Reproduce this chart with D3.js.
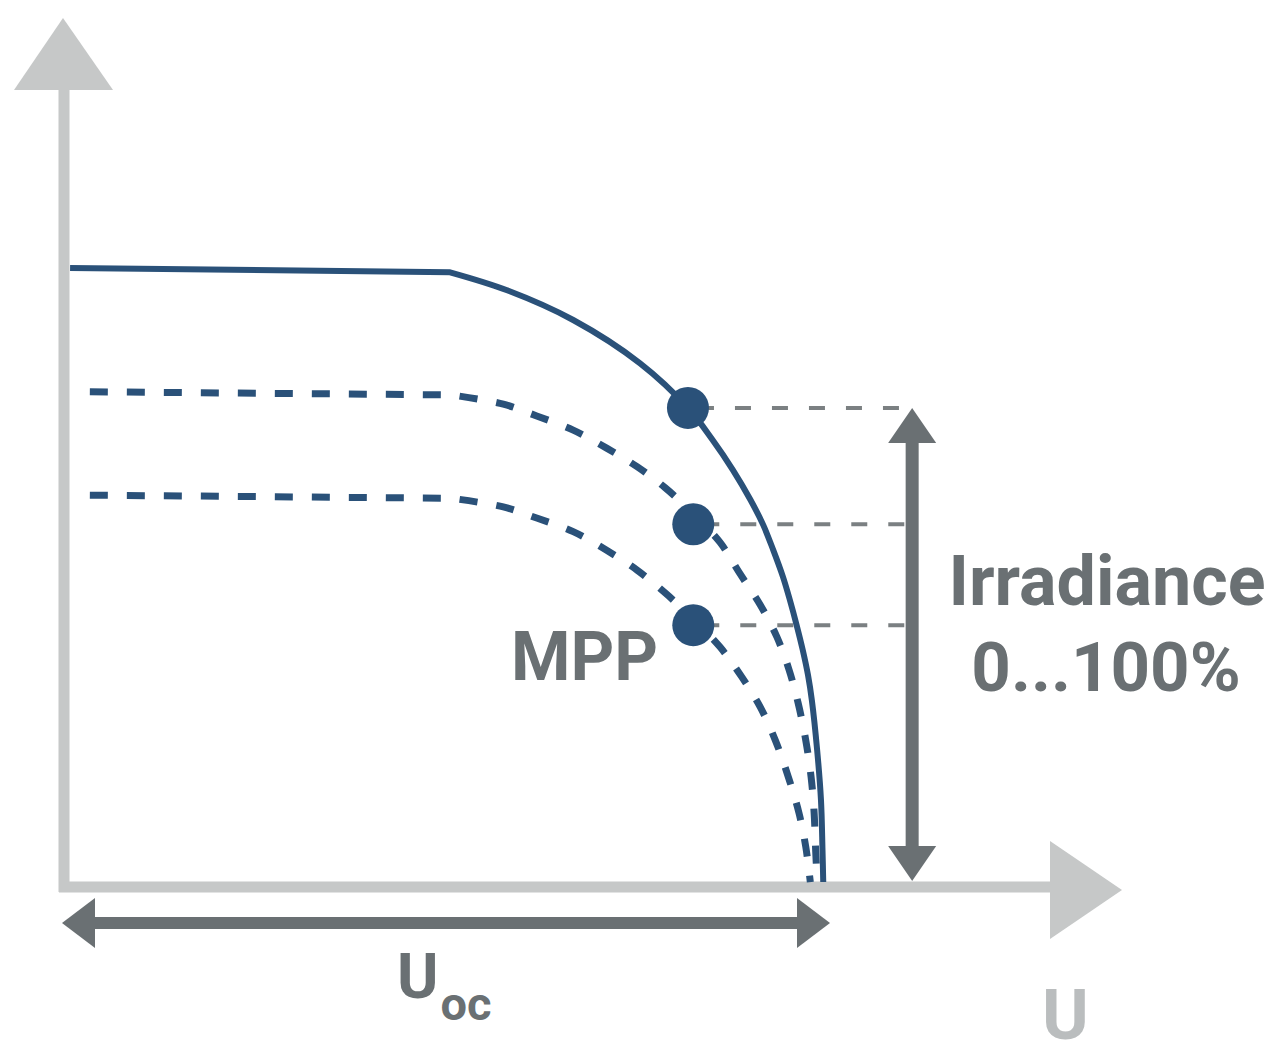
<!DOCTYPE html>
<html>
<head>
<meta charset="utf-8">
<script src="https://cdn.jsdelivr.net/npm/d3@7/dist/d3.min.js"></script>
<style>
  html, body { margin: 0; padding: 0; background: #fff; }
  svg { display: block; }
  text { font-family: Roboto, "Noto Sans", sans-serif; }
</style>
</head>
<body>
<svg id="chart" width="1273" height="1040"></svg>
<script>
// ---- Data (U in % of Uoc, I in % of max current) ----
// first two points: flat plateau; rest: knee and drop to Uoc
const curve100 = [[0.8,100],[50.8,99.3],[58.3,96.4],[67.0,91.6],[75.8,84.6],[82.1,77.4],[85.3,72.3],[88.0,67.4],[90.3,62.6],[92.0,58.5],[93.3,54.5],[94.6,50.1],[95.5,46.4],[96.4,42.3],[97.2,38.3],[97.9,34.2],[98.4,30.2],[99.1,22.1],[99.6,14.1],[99.8,6.1],[99.9,0.8]];
const curveMid = [[3.4,80.0],[51.0,79.5],[57.8,78.0],[62.2,76.1],[67.0,73.8],[71.4,70.9],[75.4,67.9],[79.1,64.5],[82.8,60.3],[86.3,55.7],[88.9,50.7],[91.6,45.6],[93.8,40.4],[95.4,35.1],[96.6,29.7],[97.6,23.7],[98.3,17.8],[98.7,12.0],[98.9,6.0],[99.1,0.8]];
const curveLow = [[3.4,63.3],[51.0,62.8],[57.8,61.4],[62.2,59.6],[67.0,57.4],[71.4,54.4],[75.4,51.2],[79.1,47.5],[82.8,43.3],[86.3,38.8],[89.2,33.9],[91.6,29.1],[93.6,23.7],[95.3,17.8],[96.7,12.0],[97.6,6.5],[98.2,0.8]];
const mppU = [82.1, 82.8, 82.8];
const mppI = [77.4, 58.6, 42.3];
const irradianceU = 111.6;     // position of the irradiance arrow
const labels = { mpp: "MPP", irr1: "Irradiance", irr2: "0...100%", uoc: "U", uocSub: "oc", u: "U" };

// ---- Scales ----
const x = d3.scaleLinear().domain([0, 100]).range([64, 824]);
const y = d3.scaleLinear().domain([0, 100]).range([887, 268]);

const svg = d3.select("#chart");
const axisColor = "#c6c8c8";
const darkGray = "#6a7073";
const blue = "#2a5179";

// ---- Axes ----
const x0 = x(0), y0 = y(0);
svg.append("line").attr("x1", x0).attr("y1", y0 + 5).attr("x2", x0).attr("y2", 88)
  .attr("stroke", axisColor).attr("stroke-width", 11);
svg.append("path").attr("d", `M${x0 - 50},90 L${x0 + 49},90 L${x0 - 1},18 Z`).attr("fill", axisColor);
svg.append("line").attr("x1", x0 - 5).attr("y1", y0).attr("x2", 1052).attr("y2", y0)
  .attr("stroke", axisColor).attr("stroke-width", 11);
svg.append("path").attr("d", `M1050,${y0 - 46} L1050,${y0 + 52} L1122,${y0 + 3} Z`).attr("fill", axisColor);

// ---- Reference dashed lines from MPP ----
mppU.forEach((u, i) => {
  svg.append("line")
    .attr("x1", x(u) + 10).attr("y1", y(mppI[i]))
    .attr("x2", x(irradianceU)).attr("y2", y(mppI[i]))
    .attr("stroke", "#7b8082").attr("stroke-width", 4)
    .attr("stroke-dasharray", "16,21");
});

// ---- Curves ----
const flatLine = d3.line().x(d => x(d[0])).y(d => y(d[1])).curve(d3.curveLinear);
const kneeLine = d3.line().x(d => x(d[0])).y(d => y(d[1])).curve(d3.curveCatmullRom.alpha(0.5));
function ivPath(c) {
  return flatLine(c.slice(0, 2)) + kneeLine(c.slice(1)).replace(/^M/, "L");
}
svg.append("path").attr("d", ivPath(curve100)).attr("fill", "none")
  .attr("stroke", blue).attr("stroke-width", 6).attr("stroke-linejoin", "round");
[curveMid, curveLow].forEach(c => {
  svg.append("path").attr("d", ivPath(c)).attr("fill", "none")
    .attr("stroke", blue).attr("stroke-width", 7)
    .attr("stroke-dasharray", "18,19");
});

// ---- MPP dots ----
svg.selectAll("circle.mpp").data(mppU).join("circle")
  .attr("class", "mpp")
  .attr("cx", d => x(d)).attr("cy", (d, i) => y(mppI[i]))
  .attr("r", 21).attr("fill", blue);

// ---- Irradiance arrow ----
const ax = x(irradianceU);
const aTop = y(mppI[0]), aBot = 881;
svg.append("line").attr("x1", ax).attr("y1", aTop + 30).attr("x2", ax).attr("y2", aBot - 30)
  .attr("stroke", darkGray).attr("stroke-width", 13);
svg.append("path").attr("d", `M${ax - 24},${aTop + 35} L${ax + 24},${aTop + 35} L${ax},${aTop} Z`).attr("fill", darkGray);
svg.append("path").attr("d", `M${ax - 24},${aBot - 35} L${ax + 24},${aBot - 35} L${ax},${aBot} Z`).attr("fill", darkGray);

// ---- Uoc arrow ----
const uy = 923, uL = 62, uR = 830;
svg.append("line").attr("x1", uL + 30).attr("y1", uy).attr("x2", uR - 30).attr("y2", uy)
  .attr("stroke", darkGray).attr("stroke-width", 12);
svg.append("path").attr("d", `M${uL + 33},${uy - 25} L${uL + 33},${uy + 25} L${uL},${uy} Z`).attr("fill", darkGray);
svg.append("path").attr("d", `M${uR - 33},${uy - 25} L${uR - 33},${uy + 25} L${uR},${uy} Z`).attr("fill", darkGray);

// ---- Texts ----
svg.append("text").attr("x", 511).attr("y", 680).attr("font-size", 68).attr("font-weight", 700)
  .attr("fill", darkGray).text(labels.mpp);
svg.append("text").attr("x", 1107).attr("y", 605).attr("text-anchor", "middle")
  .attr("font-size", 70).attr("font-weight", 700).attr("fill", darkGray).text(labels.irr1);
svg.append("text").attr("x", 1106).attr("y", 691).attr("text-anchor", "middle")
  .attr("font-size", 69).attr("font-weight", 700).attr("fill", darkGray).text(labels.irr2);
const uoc = svg.append("text").attr("x", 397).attr("y", 998).attr("font-size", 63).attr("font-weight", 700)
  .attr("fill", darkGray);
uoc.append("tspan").text(labels.uoc);
uoc.append("tspan").attr("dy", 22).attr("font-size", 47).attr("dx", 2).text(labels.uocSub);
svg.append("text").attr("x", 1042).attr("y", 1039).attr("font-size", 71).attr("font-weight", 700)
  .attr("fill", "#babdbe").text(labels.u);
</script>
</body>
</html>
